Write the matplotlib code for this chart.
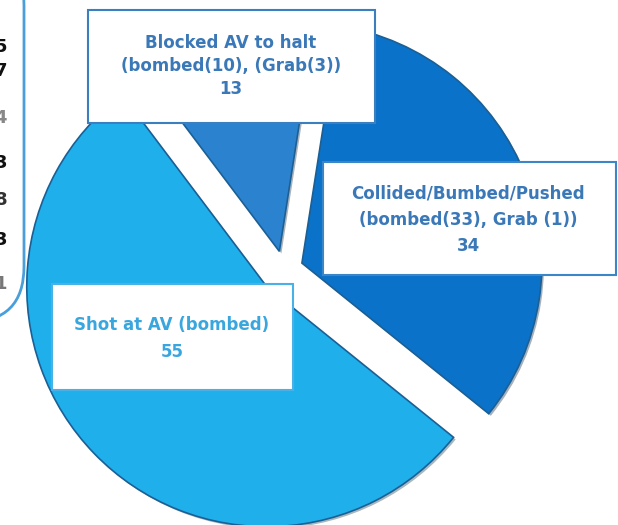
"""Pie chart: AV incident types (exploded, boxed labels)."""
import matplotlib
matplotlib.use("Agg")
import matplotlib.pyplot as plt
from matplotlib.patches import Rectangle, FancyBboxPatch
import matplotlib.patheffects as pe

plt.rcParams["font.family"] = ["DejaVu Sans"]

categories = ["Blocked AV to halt", "Collided/Bumbed/Pushed", "Shot at AV (bombed)"]
details = ["(bombed(10), (Grab(3))", "(bombed(33), Grab (1))", ""]
counts = [13, 34, 55]
colors = ["#2b83cf", "#0b72c9", "#1fb0ec"]
explode = [0.08, 0.08, 0.1]

# cut-off digits from a neighbouring panel on the left
side_digits = ["5", "7", "4", "3", "8", "3", "1"]

W, H = 618, 525
cx, cy, R = 284, 270, 240   # pie centre / radius in pixels (top-down y)

fig = plt.figure(figsize=(W / 100, H / 100), dpi=100)
ax = fig.add_axes([0, 0, 1, 1])

wedges, _ = ax.pie(
    counts, colors=colors, explode=explode, startangle=127, counterclock=False,
    radius=1, wedgeprops=dict(edgecolor="#1b5f95", linewidth=1.2),
)
for w in wedges:
    w.set_path_effects([pe.SimplePatchShadow(offset=(1.5, -1.5), alpha=0.35), pe.Normal()])

ax.set_xlim(-cx / R, (W - cx) / R)
ax.set_ylim(-(H - cy) / R, cy / R)
ax.set_aspect("equal")
ax.axis("off")


def fx(x):
    return x / W


def fy(y):
    return 1 - y / H


def box(x0, y0, x1, y1, edge):
    fig.add_artist(Rectangle((fx(x0), fy(y1)), fx(x1) - fx(x0), fy(y0) - fy(y1),
                             transform=fig.transFigure, facecolor="white",
                             edgecolor=edge, linewidth=1.5, zorder=5))


# label boxes (pixel layout)
layout = [
    dict(box=(88, 10, 375, 123), xc=231, ys=(43, 66, 89), edge="#3b7fc0", tc="#3a78b8"),
    dict(box=(323, 162, 616, 275), xc=468, ys=(193, 220, 246), edge="#3b86c8", tc="#3a78b8"),
    dict(box=(52, 284, 293, 390), xc=172, ys=(325, 352), edge="#4ab0e8", tc="#3aa6de"),
]
for cat, det, n, lay in zip(categories, details, counts, layout):
    box(*lay["box"], lay["edge"])
    lines = [cat] + ([det] if det else []) + [str(n)]
    for text, y in zip(lines, lay["ys"]):
        fig.text(fx(lay["xc"]), fy(y), text, ha="center", va="center",
                 fontsize=12, fontweight="bold", color=lay["tc"], zorder=6)

# neighbouring panel edge on the left
fig.add_artist(FancyBboxPatch((fx(-200), fy(322)), fx(224), fy(-50) - fy(322),
                              boxstyle="round,pad=0,rounding_size=0.09",
                              transform=fig.transFigure, facecolor="none",
                              edgecolor="#4a9fdb", linewidth=2, zorder=4,
                              mutation_aspect=W / H))
digit_y = [47, 71, 118, 163, 200, 240, 284]
digit_c = ["#111111", "#111111", "#888888", "#111111", "#333333", "#111111", "#777777"]
for d, y, c in zip(side_digits, digit_y, digit_c):
    fig.text(fx(7), fy(y), d, ha="right", va="center", fontsize=13,
             fontweight="bold", color=c)

fig.savefig("out.png", dpi=100)
